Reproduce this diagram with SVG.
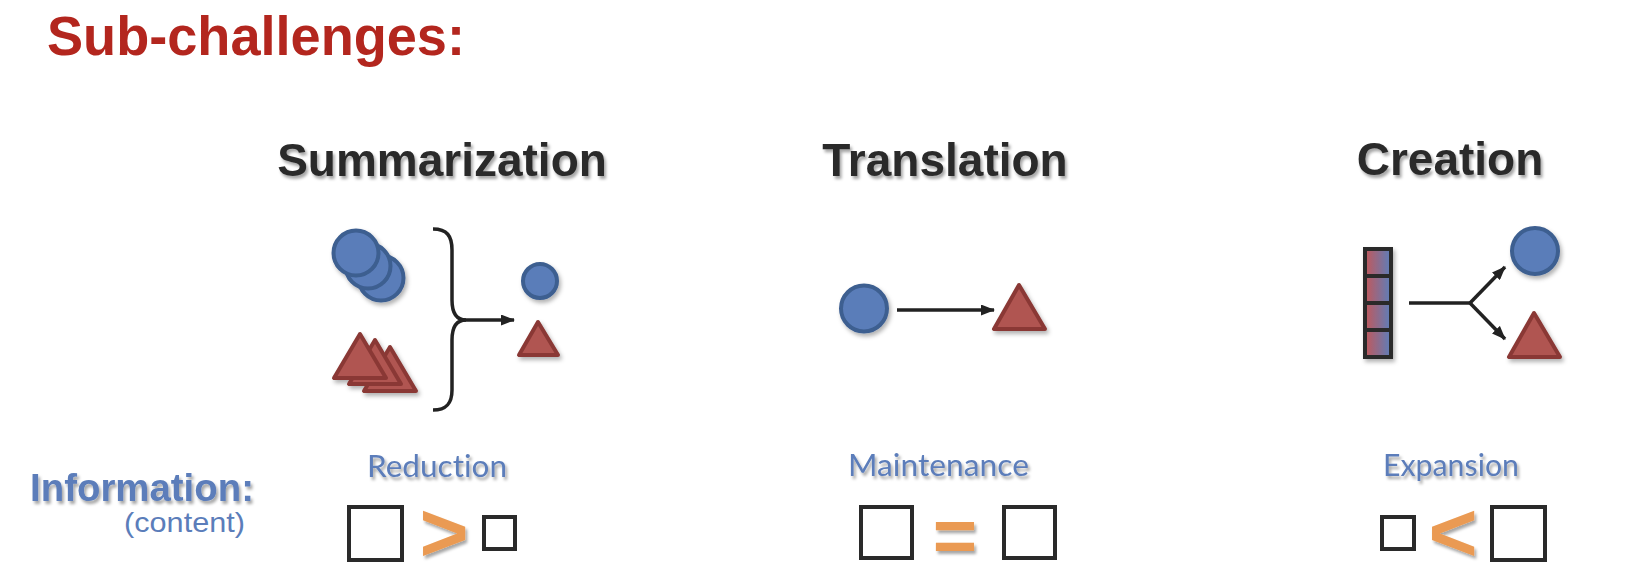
<svg xmlns="http://www.w3.org/2000/svg" width="1648" height="584" viewBox="0 0 1648 584">
<defs>
  <filter id="sh" x="-20%" y="-20%" width="150%" height="160%">
    <feDropShadow dx="2" dy="3" stdDeviation="2" flood-color="#000" flood-opacity="0.3"/>
  </filter>
  <filter id="tsh" x="-5%" y="-20%" width="115%" height="160%">
    <feDropShadow dx="2" dy="3" stdDeviation="1.5" flood-color="#000" flood-opacity="0.35"/>
  </filter>
  <linearGradient id="grad" x1="0" y1="0" x2="1" y2="0">
    <stop offset="0" stop-color="#C2585A"/>
    <stop offset="1" stop-color="#5C7EBB"/>
  </linearGradient>
  <marker id="ah" viewBox="0 0 14 11" refX="13" refY="5.5" markerWidth="14" markerHeight="11" markerUnits="userSpaceOnUse" orient="auto">
    <path d="M0,0 L14,5.5 L0,11 Z" fill="#222"/>
  </marker>
  <style>
    .title{font-family:"Liberation Sans",Arial,sans-serif;font-weight:bold;fill:#B3261E}
    .head{font-family:"Liberation Sans",Arial,sans-serif;font-weight:bold;font-size:46px;fill:#2B2B2B;text-anchor:middle}
    .lbl{font-family:Lato,"Liberation Sans",sans-serif;font-size:30px;fill:#5B7DBA;text-anchor:middle;font-variant-ligatures:none}
    .info{font-family:"Liberation Sans",Arial,sans-serif;fill:#5B7DBA;text-anchor:end}
    .circ{fill:#5A7DB9;stroke:#3D5E90;stroke-width:4}
    .tri{fill:#B05551;stroke:#8A3935;stroke-width:4;stroke-linejoin:round}
    .box{fill:#fff;stroke:#2A2A2A;stroke-width:4}
    .op{font-family:"Liberation Sans",Arial,sans-serif;font-weight:bold;fill:#EA9A52;text-anchor:middle}
    .con{fill:none;stroke:#222;stroke-width:3.5}
  </style>
</defs>
<rect width="1648" height="584" fill="#fff"/>

<g id="title">
  <text class="title" x="47" y="55" font-size="55" textLength="418" lengthAdjust="spacingAndGlyphs">Sub-challenges:</text>
</g>

<g id="summarization">
  <text class="head" x="442" y="176" filter="url(#tsh)">Summarization</text>
  <g filter="url(#sh)">
    <circle class="circ" cx="381" cy="278" r="22.5"/>
    <circle class="circ" cx="368" cy="266" r="22.5"/>
    <circle class="circ" cx="356" cy="253" r="22.5"/>
  </g>
  <g filter="url(#sh)">
    <polygon class="tri" points="390,347 364,391 416,391"/>
    <polygon class="tri" points="375,340 349,384 401,384"/>
    <polygon class="tri" points="360,334 334,378 386,378"/>
  </g>
  <circle class="circ" cx="540" cy="281" r="17" filter="url(#sh)"/>
  <polygon class="tri" points="538,322 519,355 558,355" filter="url(#sh)"/>
</g>

<g id="translation">
  <text class="head" x="945" y="176" filter="url(#tsh)">Translation</text>
  <circle class="circ" cx="864" cy="308.5" r="23" filter="url(#sh)"/>
  <polygon class="tri" points="1019,285 994,329 1045,329" filter="url(#sh)"/>
</g>

<g id="creation">
  <text class="head" x="1450" y="175" filter="url(#tsh)">Creation</text>
  <g filter="url(#sh)">
    <rect x="1365" y="249" width="26" height="108" fill="url(#grad)" stroke="#2A2A2A" stroke-width="4"/>
    <path d="M1365,276 H1391 M1365,303 H1391 M1365,330 H1391" stroke="#2A2A2A" stroke-width="4"/>
  </g>
  <circle class="circ" cx="1535" cy="251" r="23" filter="url(#sh)"/>
  <polygon class="tri" points="1534,313 1509,357 1560,357" filter="url(#sh)"/>
</g>

<g id="connectors">
  <path class="con" d="M433,229 C447,229 452,236 452,250 L452,300 C452,313 456,320 466,320 M466,320 C456,320 452,327 452,340 L452,390 C452,403 447,410 433,410"/>
  <line class="con" x1="463" y1="320" x2="514" y2="320" stroke-width="3" marker-end="url(#ah)"/>
  <line class="con" x1="897" y1="310" x2="994" y2="310" stroke-width="3" marker-end="url(#ah)"/>
  <path class="con" d="M1409,303 H1470" stroke-width="3.5"/>
  <line class="con" x1="1470" y1="303" x2="1505" y2="267" stroke-width="3.5" marker-end="url(#ah)"/>
  <line class="con" x1="1470" y1="303" x2="1505" y2="339" stroke-width="3.5" marker-end="url(#ah)"/>
</g>

<g id="information">
  <text class="info" x="254" y="501" font-size="39" font-weight="bold" textLength="224" lengthAdjust="spacingAndGlyphs" filter="url(#tsh)">Information:</text>
  <text class="info" x="245" y="532" font-size="28" textLength="121" lengthAdjust="spacingAndGlyphs">(content)</text>
</g>

<g id="reduction">
  <text class="lbl" x="437" y="477" textLength="140" lengthAdjust="spacingAndGlyphs" filter="url(#tsh)">Reduction</text>
  <rect class="box" x="349" y="507" width="53" height="53"/>
  <text class="op" x="444" y="561" font-size="84" filter="url(#tsh)">&gt;</text>
  <rect class="box" x="484" y="517" width="31" height="32"/>
</g>

<g id="maintenance">
  <text class="lbl" x="938.5" y="476" textLength="181" lengthAdjust="spacingAndGlyphs" filter="url(#tsh)">Maintenance</text>
  <rect class="box" x="861" y="507" width="51" height="51"/>
  <text class="op" x="955" y="562" font-size="76" filter="url(#tsh)">=</text>
  <rect class="box" x="1004" y="507" width="51" height="51"/>
</g>

<g id="expansion">
  <text class="lbl" x="1451" y="476" textLength="136" lengthAdjust="spacingAndGlyphs" filter="url(#tsh)">Expansion</text>
  <rect class="box" x="1382" y="517" width="32" height="32"/>
  <text class="op" x="1453" y="561" font-size="84" filter="url(#tsh)">&lt;</text>
  <rect class="box" x="1492" y="507" width="53" height="53"/>
</g>
</svg>
